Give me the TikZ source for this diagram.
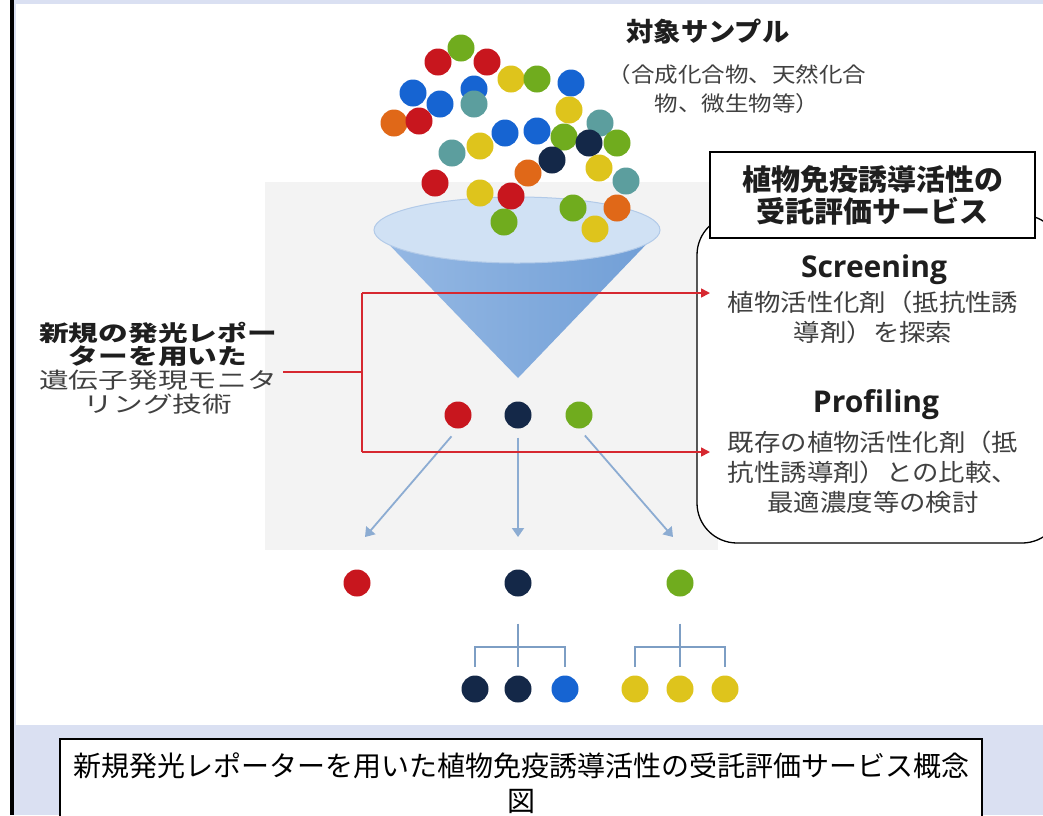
\documentclass[tikz,border=0pt]{standalone}
\usepackage{fontspec}
\usepackage{graphicx}
\usetikzlibrary{arrows.meta}
\newfontfamily\jp{Noto Sans CJK JP}
\newfontfamily\lat{Open Sans}
\definecolor{lav}{RGB}{218,224,242}
\definecolor{panel}{RGB}{243,243,243}
\definecolor{cRed}{RGB}{200,22,30}
\definecolor{cGreen}{RGB}{112,172,30}
\definecolor{cYellow}{RGB}{222,196,28}
\definecolor{cBlue}{RGB}{22,100,210}
\definecolor{cTeal}{RGB}{92,158,158}
\definecolor{cOrange}{RGB}{224,104,24}
\definecolor{cNavy}{RGB}{20,40,72}
\definecolor{redline}{RGB}{214,40,48}
\definecolor{steel}{RGB}{140,172,210}
\definecolor{treec}{RGB}{125,158,196}
\definecolor{head}{RGB}{30,30,30}
\definecolor{body}{RGB}{64,64,64}
\definecolor{funtop}{RGB}{208,225,244}
\definecolor{funrim}{RGB}{178,202,232}
\definecolor{coneL}{RGB}{150,185,228}
\definecolor{coneM}{RGB}{68,126,196}
\definecolor{coneR}{RGB}{112,158,214}
% horizontal stretch for text lines
\newcommand\hs[2][1.1]{\scalebox{#1}[1]{#2}}
\begin{document}
\begin{tikzpicture}[x=1pt,y=-1pt,
  ball/.style={circle,inner sep=0pt,minimum size=27pt,draw=none},
  redln/.style={draw=redline,line width=1.6pt},
  redarr/.style={redln,-{Triangle[length=9pt,width=9pt]}},
  bluearr/.style={draw=steel,line width=1.8pt,-{Triangle[length=9pt,width=12pt]}},
  treeln/.style={draw=treec,line width=1.8pt},
  txt/.style={inner sep=0pt,align=center}]
\useasboundingbox (0,0) rectangle (1043,815);
% page frame
\fill[white] (0,0) rectangle (1043,815);
\fill[lav] (14,0) rectangle (1043,815);
\fill[white] (16,4) rectangle (1043,725);
\fill[black] (10,0) rectangle (14,815);
% grey panel behind the funnel
\fill[panel] (265,182) rectangle (718,550);

% funnel
\shade[left color=coneL, middle color=coneM, right color=coneR]
  (375,230) -- (660,230) -- (518,378) -- cycle;
\fill[funtop, draw=funrim, line width=1pt] (517,230) ellipse [x radius=143pt, y radius=33pt];

% sample balls
\foreach \px/\py/\c [count=\i] in {
  461/48/cGreen, 438/62/cRed, 487/62/cRed, 511/79/cYellow, 537/79/cGreen,
  571/83/cBlue, 413/93/cBlue, 474/89/cBlue, 440/104/cBlue, 474/104/cTeal,
  569/110/cYellow, 394/123/cOrange, 419/121/cRed, 600/123/cTeal, 505/133/cBlue,
  537/131/cBlue, 564/137/cGreen, 589/143/cNavy, 617/143/cGreen, 452/153/cTeal,
  480/146/cYellow, 552/160/cNavy, 528/173/cOrange, 599/168/cYellow, 626/181/cTeal,
  435/183/cRed, 480/193/cYellow, 511/196/cRed, 504/222/cGreen, 573/208/cGreen,
  617/208/cOrange, 595/229/cYellow}
  \node[ball,fill=\c] (s\i) at (\px,\py) {};

% sample title
\node[txt,text=head,font=\jp\bfseries\fontsize{26}{28}\selectfont] (ttl) at (708,32) {\hs[1.05]{対象サンプル}};
\node[txt,text=body,font=\jp\fontsize{21}{29}\selectfont] (sub) at (737,89)
  {\hs[1.12]{（合成化合物、天然化合}\\\hs[1.12]{物、微生物等）}};

% screened hits
\node[ball,fill=cRed]  (m1) at (458,415) {};
\node[ball,fill=cNavy] (m2) at (518,415) {};
\node[ball,fill=cGreen] (m3) at (579,415) {};
\coordinate (t1) at (365,537);
\coordinate (t2) at (518,537);
\coordinate (t3) at (673,537);
\draw[bluearr,shorten <=10pt] (m1.south) -- (t1);
\draw[bluearr,shorten <=9pt] (m2.south) -- (t2);
\draw[bluearr,shorten <=9pt] (m3.south) -- (t3);

% profiled compounds
\node[ball,fill=cRed]  (p1) at (357,583) {};
\node[ball,fill=cNavy] (p2) at (518,583) {};
\node[ball,fill=cGreen] (p3) at (680,583) {};
\node[ball,fill=cNavy]  (k1) at (475,689) {};
\node[ball,fill=cNavy]  (k2) at (518,689) {};
\node[ball,fill=cBlue]  (k3) at (565,689) {};
\node[ball,fill=cYellow] (g1) at (635,689) {};
\node[ball,fill=cYellow] (g2) at (680,689) {};
\node[ball,fill=cYellow] (g3) at (725,689) {};
\coordinate (j2) at (518,647);
\coordinate (j3) at (680,647);
\draw[treeln,shorten <=27pt,shorten >=8pt] (p2.south) -- (k2.north);
\draw[treeln,shorten >=8pt] (j2) -| (k1.north);
\draw[treeln,shorten >=8pt] (j2) -| (k3.north);
\draw[treeln,shorten <=27pt,shorten >=8pt] (p3.south) -- (g2.north);
\draw[treeln,shorten >=8pt] (j3) -| (g1.north);
\draw[treeln,shorten >=8pt] (j3) -| (g3.north);

% service box
\begin{scope}
\clip (0,0) rectangle (1043,815);
\draw[fill=white,line width=1.3pt,rounded corners=40pt] (697,215) rectangle (1062,543);
\end{scope}
\node[draw,fill=white,line width=1.3pt,minimum width=325pt,minimum height=86pt,inner sep=0pt,
  align=center,text=head,font=\jp\bfseries\fontsize{29}{32}\selectfont] (hdr) at (872.5,195)
  {植物免疫誘導活性の\\受託評価サービス};
\node[txt,text=head,font=\lat\bfseries\fontsize{30}{34}\selectfont] (scr) at (874,270) {Screening};
\node[txt,text=body,font=\jp\fontsize{24}{30}\selectfont] (scrd) at (873,317)
  {\hs{植物活性化剤（抵抗性誘}\\\hs{導剤）を探索}};
\node[txt,text=head,font=\lat\bfseries\fontsize{30}{34}\selectfont] (prf) at (876,405) {Profiling};
\node[txt,text=body,font=\jp\fontsize{24}{30}\selectfont] (prfd) at (873,472)
  {\hs{既存の植物活性化剤（抵}\\\hs{抗性誘導剤）との比較、}\\\hs{最適濃度等の検討}};

% technology label and its connectors
\node[txt,font=\jp\fontsize{22}{23.8}\selectfont] (lt) at (158,368)
  {{\bfseries\color{head}\hs[1.35]{新規の発光レポー}}\\
   {\bfseries\color{head}\hs[1.35]{ターを用いた}}\\
   {\color{body}\hs[1.35]{遺伝子発現モニタ}}\\
   {\color{body}\hs[1.35]{リング技術}}};
\coordinate (jm) at (362,372);
\coordinate (jt) at (362,293);
\coordinate (jb) at (362,452);
\coordinate (sa) at (710,293);
\coordinate (pa) at (710,452);
\draw[redln] ([xshift=6pt]lt.east |- jm) -- (jm);
\draw[redln] (jt) -- (jb);
\draw[redarr] (jt) -- (sa);
\draw[redarr] (jb) -- (pa);

% caption
\draw[fill=white,line width=1.5pt] (60,739) rectangle (982,820);
\node[txt,text=black,font=\jp\fontsize{28}{35}\selectfont] (cap) at (521,783)
  {新規発光レポーターを用いた植物免疫誘導活性の受託評価サービス概念\\図};
\end{tikzpicture}
\end{document}
